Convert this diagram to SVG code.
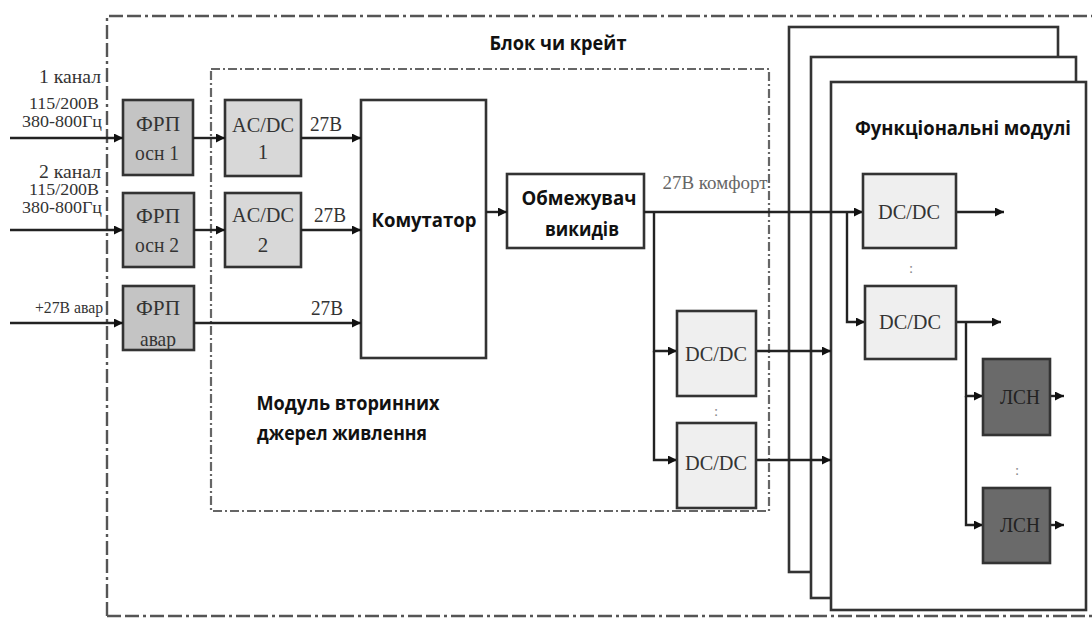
<svg xmlns="http://www.w3.org/2000/svg" width="1092" height="619" viewBox="0 0 1092 619">
<defs>
<marker id="arr" viewBox="0 0 10 10" refX="10" refY="5" markerWidth="10" markerHeight="9" markerUnits="userSpaceOnUse" orient="auto">
<path d="M0,0 L10,5 L0,10 z" fill="#111"/>
</marker>
<style>
.box{stroke:#333;stroke-width:2.6}
.frp{fill:#c4c4c4}
.acdc{fill:#d8d8d8}
.dc{fill:#efefef}
.lsn{fill:#6a6a6a}
.mod{fill:#fff;stroke:#333;stroke-width:2.6}
.ser{font-family:"Liberation Serif","Times New Roman",serif;fill:#333;font-size:21px;text-anchor:middle;dominant-baseline:central}
.lbl{font-family:"Liberation Serif","Times New Roman",serif;fill:#333;font-size:16px;text-anchor:end;dominant-baseline:central}
.b{font-family:"Open Sans","Liberation Sans",sans-serif;font-weight:700;fill:#111;font-size:19px;text-anchor:middle;dominant-baseline:central}
.ln{fill:none;stroke:#222;stroke-width:2.4}
.dots{fill:#888;font-family:"Liberation Serif",serif;font-size:15px;text-anchor:middle;dominant-baseline:central}
</style>
</defs>

<g id="outer-block">
<path d="M107,616 V16 H1092 M107,616 H1092" fill="none" stroke="#555" stroke-width="2.4" stroke-dasharray="14 4 14 4 3 4"/>
<text class="b" x="558" y="43" textLength="137" lengthAdjust="spacingAndGlyphs">Блок чи крейт</text>
</g>

<g id="psu-module">
<rect x="211" y="69" width="558" height="442" fill="none" stroke="#666" stroke-width="2.2" stroke-dasharray="9 3 2 3"/>
<text class="b" x="348" y="403" textLength="183" lengthAdjust="spacingAndGlyphs">Модуль вторинних</text>
<text class="b" x="342" y="433" textLength="170" lengthAdjust="spacingAndGlyphs">джерел живлення</text>
</g>

<g id="functional-modules">
<rect class="mod" x="789" y="27" width="269" height="545"/>
<rect class="mod" x="811" y="57" width="265" height="541"/>
<rect class="mod" x="831" y="82" width="255" height="528"/>
<text class="b" x="963" y="128" textLength="216" lengthAdjust="spacingAndGlyphs">Функціональні модулі</text>
</g>

<g id="inputs-labels">
<text class="lbl" x="101" y="77" textLength="62" lengthAdjust="spacingAndGlyphs" style="font-size:18px">1 канал</text>
<text class="lbl" x="99" y="103" textLength="70" lengthAdjust="spacingAndGlyphs">115/200В</text>
<text class="lbl" x="102" y="121" textLength="80" lengthAdjust="spacingAndGlyphs">380-800Гц</text>
<text class="lbl" x="101" y="172" textLength="62" lengthAdjust="spacingAndGlyphs" style="font-size:18px">2 канал</text>
<text class="lbl" x="99" y="189" textLength="70" lengthAdjust="spacingAndGlyphs">115/200В</text>
<text class="lbl" x="102" y="207" textLength="80" lengthAdjust="spacingAndGlyphs">380-800Гц</text>
<text class="lbl" x="103" y="307" textLength="68" lengthAdjust="spacingAndGlyphs">+27В авар</text>
</g>

<g id="frp1">
<rect class="box frp" x="123" y="100" width="70" height="75"/>
<text class="ser" x="158" y="124" textLength="44" lengthAdjust="spacingAndGlyphs">ФРП</text>
<text class="ser" x="157" y="153" textLength="44" lengthAdjust="spacingAndGlyphs">осн 1</text>
</g>
<g id="frp2">
<rect class="box frp" x="123" y="193" width="71" height="74"/>
<text class="ser" x="158" y="216" textLength="44" lengthAdjust="spacingAndGlyphs">ФРП</text>
<text class="ser" x="157" y="245" textLength="44" lengthAdjust="spacingAndGlyphs">осн 2</text>
</g>
<g id="frp3">
<rect class="box frp" x="123" y="286" width="71" height="64"/>
<text class="ser" x="158" y="308" textLength="44" lengthAdjust="spacingAndGlyphs">ФРП</text>
<text class="ser" x="158" y="339" textLength="36" lengthAdjust="spacingAndGlyphs">авар</text>
</g>

<g id="acdc1">
<rect class="box acdc" x="225" y="100" width="76" height="76"/>
<text class="ser" x="263" y="125" textLength="62" lengthAdjust="spacingAndGlyphs">AC/DC</text>
<text class="ser" x="263" y="152">1</text>
</g>
<g id="acdc2">
<rect class="box acdc" x="225" y="193" width="76" height="74"/>
<text class="ser" x="263" y="215" textLength="62" lengthAdjust="spacingAndGlyphs">AC/DC</text>
<text class="ser" x="263" y="245">2</text>
</g>

<g id="commutator">
<rect class="box" fill="#fff" x="361" y="100" width="125" height="258"/>
<text class="b" x="424" y="220" textLength="105" lengthAdjust="spacingAndGlyphs">Комутатор</text>
</g>

<g id="limiter">
<rect class="box" fill="#fff" x="507" y="174" width="137" height="74"/>
<text class="b" x="579" y="198" textLength="115" lengthAdjust="spacingAndGlyphs">Обмежувач</text>
<text class="b" x="582" y="229" textLength="74" lengthAdjust="spacingAndGlyphs">викидів</text>
</g>

<g id="connectors">
<path class="ln" d="M10,138 H123" marker-end="url(#arr)"/>
<path class="ln" d="M10,230 H123" marker-end="url(#arr)"/>
<path class="ln" d="M10,323 H123" marker-end="url(#arr)"/>
<path class="ln" d="M193,138 H225" marker-end="url(#arr)"/>
<path class="ln" d="M194,230 H225" marker-end="url(#arr)"/>
<path class="ln" d="M194,323 H361" marker-end="url(#arr)"/>
<path class="ln" d="M301,138 H361" marker-end="url(#arr)"/>
<path class="ln" d="M301,230 H361" marker-end="url(#arr)"/>
<path class="ln" d="M486,212 H507" marker-end="url(#arr)"/>
<path class="ln" d="M644,212 H863" marker-end="url(#arr)"/>
<path class="ln" d="M654,212 V351 H677" marker-end="url(#arr)"/>
<path class="ln" d="M654,351 V460 H677" marker-end="url(#arr)"/>
<path class="ln" d="M756,351 H831" marker-end="url(#arr)"/>
<path class="ln" d="M756,460 H831" marker-end="url(#arr)"/>
<path class="ln" d="M847,212 V322 H865" marker-end="url(#arr)"/>
<path class="ln" d="M956,212 H1004" marker-end="url(#arr)"/>
<path class="ln" d="M956,322 H1001" marker-end="url(#arr)"/>
<path class="ln" d="M966,322 V396 H983" marker-end="url(#arr)"/>
<path class="ln" d="M966,396 V525 H983" marker-end="url(#arr)"/>
<path class="ln" d="M1050,396 H1064" marker-end="url(#arr)"/>
<path class="ln" d="M1050,525 H1064" marker-end="url(#arr)"/>
<text class="ser" x="326" y="124" textLength="32" lengthAdjust="spacingAndGlyphs">27В</text>
<text class="ser" x="330" y="215" textLength="32" lengthAdjust="spacingAndGlyphs">27В</text>
<text class="ser" x="327" y="308" textLength="32" lengthAdjust="spacingAndGlyphs">27В</text>
<text class="ser" x="715" y="183" textLength="105" lengthAdjust="spacingAndGlyphs" style="fill:#666;font-size:18px">27В комфорт</text>
</g>

<g id="dcdc-a">
<rect class="box dc" x="677" y="311" width="79" height="85"/>
<text class="ser" x="716" y="354" textLength="62" lengthAdjust="spacingAndGlyphs">DC/DC</text>
</g>
<text class="dots" x="716" y="411">:</text>
<g id="dcdc-b">
<rect class="box dc" x="677" y="423" width="79" height="85"/>
<text class="ser" x="716" y="463" textLength="62" lengthAdjust="spacingAndGlyphs">DC/DC</text>
</g>

<g id="dcdc-m1">
<rect class="box dc" x="863" y="174" width="93" height="74"/>
<text class="ser" x="909" y="212" textLength="62" lengthAdjust="spacingAndGlyphs">DC/DC</text>
</g>
<text class="dots" x="911" y="268">:</text>
<g id="dcdc-m2">
<rect class="box dc" x="865" y="286" width="91" height="73"/>
<text class="ser" x="910" y="322" textLength="62" lengthAdjust="spacingAndGlyphs">DC/DC</text>
</g>

<g id="lsn1">
<rect class="box lsn" x="983" y="359" width="67" height="76"/>
<text class="ser" x="1020" y="397" textLength="40" lengthAdjust="spacingAndGlyphs" style="fill:#222">ЛСН</text>
</g>
<text class="dots" x="1017" y="470">:</text>
<g id="lsn2">
<rect class="box lsn" x="983" y="488" width="67" height="75"/>
<text class="ser" x="1020" y="525" textLength="40" lengthAdjust="spacingAndGlyphs" style="fill:#222">ЛСН</text>
</g>
</svg>
